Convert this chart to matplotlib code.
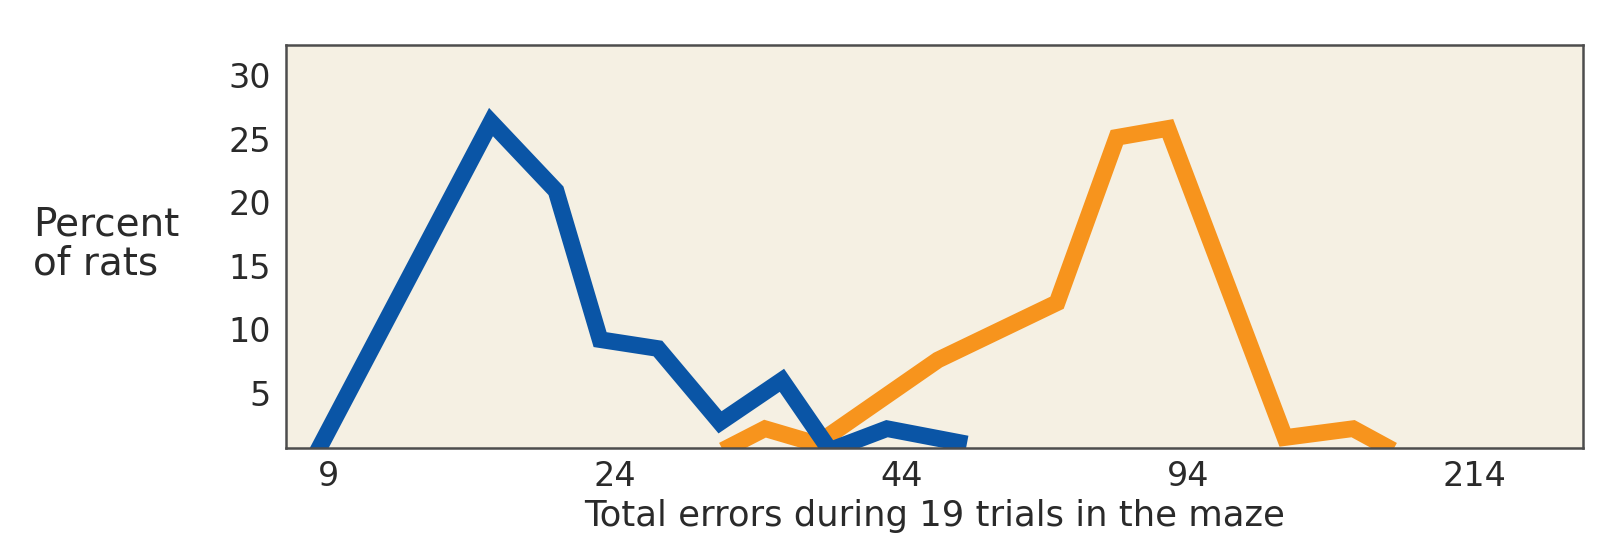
import numpy as np
import matplotlib.pyplot as plt

plt.rcParams['font.family'] = ['DejaVu Sans']

# -------------------------------------------------------
# DATA (x in bin-position units, ticks at 0..4)
# -------------------------------------------------------
tick_pos = [0, 1, 2, 3, 4]
tick_labels = ["9", "24", "44", "94", "214"]

bright_x = [-0.05, 0.566, 0.793, 0.947, 1.149, 1.366, 1.582, 1.750, 1.949, 2.228]
bright_y = [0.0, 26.3, 20.9, 9.2, 8.5, 2.7, 6.0, 0.5, 2.2, 1.0]

dull_x = [1.376, 1.523, 1.704, 2.127, 2.543, 2.752, 2.930, 3.339, 3.577, 3.716]
dull_y = [0.5, 2.2, 1.0, 7.6, 12.1, 25.1, 25.8, 1.5, 2.2, 0.5]

y_ticks = [5, 10, 15, 20, 25, 30]

BLUE = "#0a55a6"
ORANGE = "#f7941d"
BG = "#f5f0e3"
TXT = "#2a2a2a"

# -------------------------------------------------------
# PLOT
# -------------------------------------------------------
fig = plt.figure(figsize=(16.18, 5.53), dpi=100)
ax = fig.add_axes([286 / 1618, 1 - 448 / 553, (1583 - 286) / 1618, (448 - 45) / 553])
ax.set_facecolor(BG)

ax.plot(dull_x, dull_y, color=ORANGE, lw=12, solid_joinstyle="miter", solid_capstyle="butt")
ax.plot(bright_x, bright_y, color=BLUE, lw=12, solid_joinstyle="miter", solid_capstyle="butt")

ax.set_xlim(-0.150, 4.380)
ax.set_ylim(0.68, 32.36)

ax.set_xticks(tick_pos)
ax.set_xticklabels(tick_labels)
ax.set_yticks(y_ticks)
ax.tick_params(axis="both", length=0, labelsize=24, colors=TXT)
ax.tick_params(axis="y", pad=11)
ax.tick_params(axis="x", pad=8.5)

for s in ax.spines.values():
    s.set_color("#4d4d4d")
    s.set_linewidth(1.8)

# x axis title, centred under the plot box, just below the tick labels
fig.text((286 + 1583) / 2 / 1618, 1 - 499 / 553, "Total errors during 19 trials in the maze",
         fontsize=25.5, color=TXT, ha="center", va="top")
fig.text(33 / 1618, 1 - 244 / 553, "Percent\nof rats", fontsize=28, color=TXT,
         ha="left", va="center", linespacing=1.05)

fig.savefig("out.png", dpi=100, facecolor="white")
